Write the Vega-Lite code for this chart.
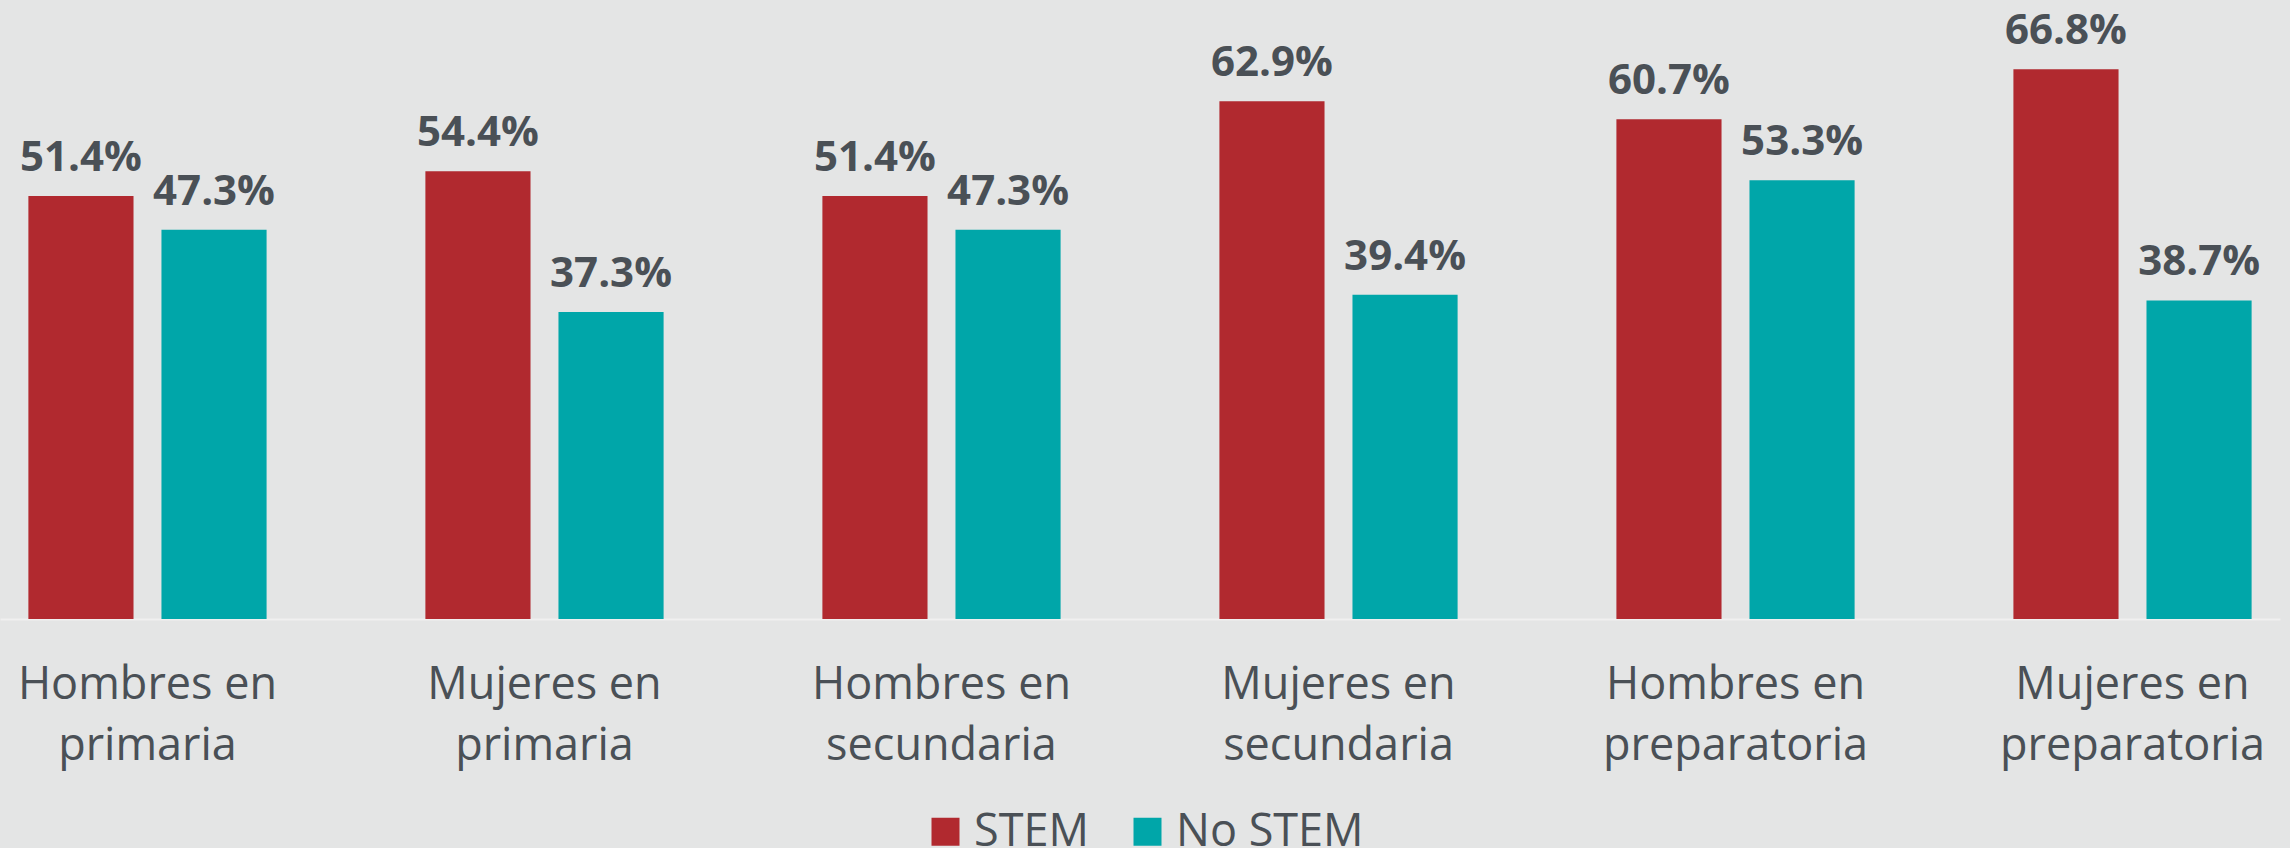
{
  "$schema": "https://vega.github.io/schema/vega-lite/v6.json",
  "width": 2280,
  "height": 619,
  "autosize": {"type": "none"},
  "padding": {"left": 0, "top": 0, "right": 10, "bottom": 229},
  "background": "#e4e5e5",
  "data": {
    "values": [
      {"grupo": "Hombres en primaria", "tipo": "STEM", "valor": 0.514},
      {"grupo": "Hombres en primaria", "tipo": "No STEM", "valor": 0.473},
      {"grupo": "Mujeres en primaria", "tipo": "STEM", "valor": 0.544},
      {"grupo": "Mujeres en primaria", "tipo": "No STEM", "valor": 0.373},
      {"grupo": "Hombres en secundaria", "tipo": "STEM", "valor": 0.514},
      {"grupo": "Hombres en secundaria", "tipo": "No STEM", "valor": 0.473},
      {"grupo": "Mujeres en secundaria", "tipo": "STEM", "valor": 0.629},
      {"grupo": "Mujeres en secundaria", "tipo": "No STEM", "valor": 0.394},
      {"grupo": "Hombres en preparatoria", "tipo": "STEM", "valor": 0.607},
      {"grupo": "Hombres en preparatoria", "tipo": "No STEM", "valor": 0.533},
      {"grupo": "Mujeres en preparatoria", "tipo": "STEM", "valor": 0.668},
      {"grupo": "Mujeres en preparatoria", "tipo": "No STEM", "valor": 0.387}
    ]
  },
  "encoding": {
    "x": {
      "field": "grupo",
      "type": "nominal",
      "sort": null,
      "title": null,
      "scale": {"paddingInner": 0.4, "paddingOuter": 0.0715},
      "axis": {
        "labelAngle": 0,
        "ticks": false,
        "domain": true,
        "domainColor": "#f0f0f0",
        "domainWidth": 2,
        "labelFont": "Open Sans",
        "labelFontSize": 45,
        "labelColor": "#4a5056",
        "labelLineHeight": 61,
        "labelPadding": 43,
        "labelBaseline": "top",
        "labelLimit": 0,
        "labelExpr": "split(replace(datum.label, ' en ', ' en|'), '|')"
      }
    },
    "xOffset": {
      "field": "tipo",
      "type": "nominal",
      "sort": ["STEM", "No STEM"],
      "scale": {"paddingInner": 0.21, "paddingOuter": 0}
    },
    "y": {
      "field": "valor",
      "type": "quantitative",
      "scale": {"domain": [0, 0.752]},
      "axis": null
    }
  },
  "layer": [
    {
      "mark": {"type": "bar"},
      "encoding": {
        "color": {
          "field": "tipo",
          "type": "nominal",
          "sort": ["STEM", "No STEM"],
          "scale": {"domain": ["STEM", "No STEM"], "range": ["#b1292f", "#00a6a9"]},
          "legend": {
            "title": null,
            "orient": "none",
            "legendX": 923,
            "legendY": 809,
            "direction": "horizontal",
            "symbolType": "square",
            "symbolSize": 784,
            "symbolStrokeWidth": 0,
            "labelFont": "Open Sans",
            "labelFontSize": 45,
            "labelColor": "#4a5056",
            "labelOffset": 6,
            "labelLimit": 0,
            "columnPadding": 36,
            "padding": 0
          }
        }
      }
    },
    {
      "mark": {
        "type": "text",
        "font": "Open Sans",
        "fontWeight": "bold",
        "fontSize": 42,
        "baseline": "alphabetic",
        "dy": -25,
        "color": "#4a5056"
      },
      "encoding": {
        "text": {"field": "valor", "type": "quantitative", "format": ".1%"}
      }
    }
  ],
  "config": {"view": {"stroke": null}}
}
